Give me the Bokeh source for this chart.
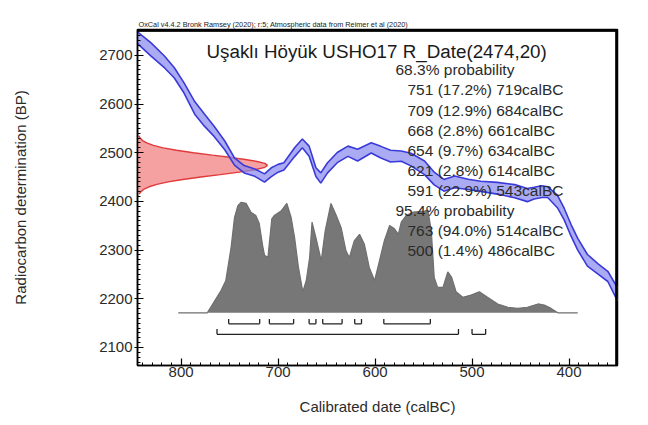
from bokeh.plotting import figure
from bokeh.models import Range1d, FixedTicker, Label, Title, Span
from bokeh.embed import file_html
from bokeh.resources import INLINE

# ---------------- data ----------------
header_text = "OxCal v4.4.2 Bronk Ramsey (2020); r:5; Atmospheric data from Reimer et al (2020)"
title_text = "Uşaklı Höyük USHO17 R_Date(2474,20)"
summary_lines = [
    "68.3% probability",
    "751 (17.2%) 719calBC",
    "709 (12.9%) 684calBC",
    "668 (2.8%) 661calBC",
    "654 (9.7%) 634calBC",
    "621 (2.8%) 614calBC",
    "591 (22.9%) 543calBC",
    "95.4% probability",
    "763 (94.0%) 514calBC",
    "500 (1.4%) 486calBC",
]
summary_is_header = [True, False, False, False, False, False, False, True, False, False]

# calibration curve (calBC, BP, 1 sigma)
curve_year = [845, 831, 817, 807, 797, 786, 776, 766, 755, 745, 735, 724, 714, 707, 700, 694,
              683, 675, 668, 661, 656, 649, 639, 628, 618, 604, 594, 584, 573, 563, 549, 539,
              529, 518, 504, 491, 474, 456, 443, 436, 428, 422, 412, 405, 398, 391, 381, 370,
              360, 350]
curve_bp = [2736, 2712, 2686, 2664, 2633, 2592, 2567, 2544, 2515, 2482, 2466, 2459, 2448, 2460,
            2468, 2472, 2501, 2519, 2503, 2460, 2448, 2469, 2490, 2503, 2495, 2510, 2501, 2493,
            2493, 2486, 2469, 2447, 2433, 2440, 2435, 2431, 2427, 2421, 2413, 2417, 2420, 2419,
            2400, 2374, 2341, 2312, 2279, 2261, 2246, 2209]
curve_sigma = [12, 13.5, 12, 10.5, 10.5, 13, 12.5, 10.5, 9, 7.5, 7.5, 7.5, 8.5, 9, 8, 7.5,
               9, 9, 10.5, 9, 10.5, 10.5, 10.5, 10.5, 12, 10.5, 12, 12, 10.5, 13, 14, 13,
               12, 12, 10.5, 10.5, 12, 13.5, 13.5, 12, 12, 11, 13, 12, 12, 12, 12, 10.5,
               10.5, 13.5]

# radiocarbon measurement distribution (BP, relative density)
rdate_bp = [2415, 2420, 2425, 2430, 2435, 2440, 2445, 2450, 2455, 2460, 2465, 2470, 2474,
            2478, 2482, 2486, 2490, 2495, 2500, 2505, 2510, 2515, 2520, 2525, 2530, 2535]
rdate_density = [0.013, 0.026, 0.05, 0.089, 0.149, 0.236, 0.349, 0.487, 0.637, 0.783, 0.904,
                 0.98, 1.0, 0.98, 0.92, 0.83, 0.726, 0.576, 0.43, 0.301, 0.198, 0.122, 0.071,
                 0.039, 0.02, 0.0095]

# calibrated distribution (calBC, relative probability)
post_year = [803, 773, 766, 759, 754, 748.5, 745, 741.5, 738, 733, 728, 723, 719.5, 716, 714,
             710.5, 706.5, 704, 697, 691, 686.5, 683, 679, 674.5, 671, 667.5, 665, 661, 655.5,
             651.5, 645.5, 640, 635, 630, 626.5, 621.5, 616, 611, 606, 600.5, 595.5, 590.5, 585,
             580, 576, 573, 568, 561, 549, 545.5, 542, 539, 535.5, 530, 525, 521, 516.5, 509.5,
             501, 492.5, 484, 473.5, 463, 453, 443, 432, 425.5, 418.5, 411.5, 391]
post_prob = [0, 0, 0.10, 0.20, 0.29, 0.59, 0.86, 0.97, 1.00, 0.99, 0.91, 0.88, 0.81, 0.61, 0.52,
             0.50, 0.85, 0.88, 0.92, 0.99, 0.86, 0.68, 0.41, 0.19, 0.29, 0.50, 0.82, 0.68, 0.47,
             0.74, 0.99, 0.88, 0.77, 0.56, 0.50, 0.65, 0.71, 0.62, 0.41, 0.29, 0.47, 0.65, 0.79,
             0.76, 0.71, 0.82, 0.88, 0.91, 0.92, 0.93, 0.74, 0.32, 0.23, 0.23, 0.37, 0.32, 0.19,
             0.14, 0.16, 0.19, 0.14, 0.08, 0.05, 0.04, 0.05, 0.08, 0.07, 0.04, 0, 0]

range68_from = [751, 709, 668, 654, 621, 591]
range68_to = [719, 684, 661, 634, 614, 543]
range95_from = [763, 500]
range95_to = [514, 486]

x_ticks = [400, 500, 600, 700, 800]
y_ticks = [2100, 2200, 2300, 2400, 2500, 2600, 2700]

# ---------------- layout constants ----------------
X0, X1 = 845, 350
Y0, Y1 = 2063, 2753
FL, FT, FW, FH = 137, 29, 480, 336   # frame position in page pixels


def sx(px):
    return X0 - (px - FL) / FW * (X0 - X1)


def sy(py):
    return Y1 - (py - FT) / FH * (Y1 - Y0)


FONT = "Liberation Sans"
TXT = "#2b2b2b"

p = figure(frame_width=FW, frame_height=FH, x_range=Range1d(X0, X1), y_range=Range1d(Y0, Y1),
           output_backend="svg", toolbar_location=None,
           min_border_left=FL, min_border_right=23, min_border_top=FT, min_border_bottom=50,
           background_fill_color=None, border_fill_color="white")
p.grid.visible = False
p.outline_line_color = "black"
p.outline_line_width = 1.5

# small header line above the frame
p.add_layout(Title(text=header_text, text_font=FONT, text_font_size="7.3px",
                   text_font_style="normal", text_color="#222222", align="left",
                   standoff=1, offset=1), "above")

# axes
p.xaxis.ticker = FixedTicker(ticks=x_ticks, minor_ticks=list(range(350, 846, 10)))
p.yaxis.ticker = FixedTicker(ticks=y_ticks, minor_ticks=list(range(2070, 2753, 10)))
for ax in (p.xaxis, p.yaxis):
    ax.axis_line_color = "black"
    ax.axis_line_width = 1.5
    ax.major_tick_line_color = "black"
    ax.minor_tick_line_color = "black"
    ax.major_tick_line_width = 1.2
    ax.minor_tick_line_width = 1
    ax.minor_tick_in = 3
    ax.minor_tick_out = 0
    ax.major_label_text_font = FONT
    ax.major_label_text_font_size = "15px"
    ax.major_label_text_color = TXT
    ax.axis_label_text_font = FONT
    ax.axis_label_text_font_size = "15px"
    ax.axis_label_text_font_style = "normal"
    ax.axis_label_text_color = TXT
p.xaxis.major_tick_in = 7
p.xaxis.major_tick_out = 0
p.xaxis.major_label_standoff = 1
p.xaxis.axis_label = "Calibrated date (calBC)"
p.xaxis.axis_label_standoff = 18
p.yaxis.major_tick_in = 6
p.yaxis.major_tick_out = 3
p.yaxis.major_label_standoff = 2
p.yaxis.axis_label = "Radiocarbon determination (BP)"
p.yaxis.axis_label_standoff = 67

# calibrated distribution
base_bp = sy(312.3)
scale_bp = 227
post_top = [base_bp + v * scale_bp for v in post_prob]
p.varea(x=post_year, y1=[base_bp] * len(post_year), y2=post_top, fill_color="#777777")
p.line(x=post_year, y=post_top, line_color="#6f6f6f", line_width=1.2)

# measurement distribution
r_x2 = [X0 - 134 * d for d in rdate_density]
p.harea(y=rdate_bp, x1=[X0] * len(rdate_bp), x2=r_x2, fill_color="#f39090", fill_alpha=0.85)
p.line(x=r_x2, y=rdate_bp, line_color="#e03a3a", line_width=1.4)

# calibration curve
upper = [b + s for b, s in zip(curve_bp, curve_sigma)]
lower = [b - s for b, s in zip(curve_bp, curve_sigma)]
p.varea(x=curve_year, y1=lower, y2=upper, fill_color="#8888ee", fill_alpha=0.7)
p.line(x=curve_year, y=upper, line_color="#3a3ad8", line_width=1.6)
p.line(x=curve_year, y=lower, line_color="#3a3ad8", line_width=1.6)


# brackets
def brackets(froms, tos, py_line, py_tick):
    yl, yt = sy(py_line), sy(py_tick)
    x0s, y0s, x1s, y1s = [], [], [], []
    for a, b in zip(froms, tos):
        x0s += [a, a, b]
        x1s += [b, a, b]
        y0s += [yl, yl, yl]
        y1s += [yl, yt, yt]
    p.segment(x0=x0s, y0=y0s, x1=x1s, y1=y1s, line_color="#222222", line_width=1.3)


brackets(range68_from, range68_to, 323.3, 318.5)
brackets(range95_from, range95_to, 333.8, 328.5)

# top and right frame edges
edge_top = sy(FT + 1.2)
edge_right = sx(FL + FW - 1.2)
p.segment(x0=[X0, edge_right], y0=[edge_top, edge_top], x1=[edge_right, edge_right],
          y1=[edge_top, Y0], line_color="black", line_width=2)
p.add_layout(Span(location=edge_top, dimension="width", line_color="black", line_width=1.5))
p.add_layout(Span(location=edge_right, dimension="height", line_color="black", line_width=1.5))

# texts
p.add_layout(Label(x=sx(206), y=sy(51), text=title_text, text_font=FONT,
                   text_font_size="18.8px", text_color="#1a1a1a", text_baseline="alphabetic"))
for i, (line, is_head) in enumerate(zip(summary_lines, summary_is_header)):
    px = 395 if is_head else 407
    p.add_layout(Label(x=sx(px), y=sy(69.3 + 20.1 * i), text=line, text_font=FONT,
                       text_font_size="15.5px", text_color=TXT, text_baseline="alphabetic"))

open("out.html", "w").write(file_html(p, INLINE))
